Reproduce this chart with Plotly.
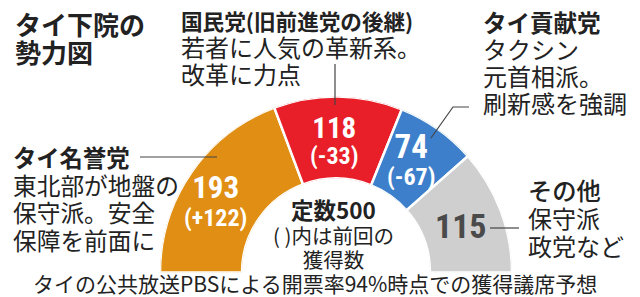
import plotly.graph_objects as go

W, H = 640, 297

parties = ["タイ名誉党", "国民党", "タイ貢献党", "その他"]
seats = [193, 118, 74, 115]
changes = ["(+122)", "(-33)", "(-67)", ""]
colors = ["#E08E14", "#E81E28", "#3D7FCB", "#CFCFCF"]
total = 500

title_lines = ["タイ下院の", "勢力図"]
notes = {
    "国民党": ["国民党(旧前進党の後継)", "若者に人気の革新系。", "改革に力点"],
    "タイ貢献党": ["タイ貢献党", "タクシン", "元首相派。", "刷新感を強調"],
    "タイ名誉党": ["タイ名誉党", "東北部が地盤の", "保守派。安全", "保障を前面に"],
    "その他": ["その他", "保守派", "政党など"],
}
center_lines = ["定数500", "( )内は前回の", "獲得数"]
footer = "タイの公共放送PBSによる開票率94%時点での獲得議席予想"

# angular positions derived from seat counts (half circle = total seats)
theta, width = [], []
cum = 0
for s in seats:
    theta.append((cum + s / 2) / total * 180)
    width.append(s / total * 180)
    cum += s

fig = go.Figure()
fig.add_trace(go.Barpolar(
    r=[1] * len(seats), theta=theta, width=width,
    marker=dict(color=colors, line=dict(color="white", width=2.5)),
    hoverinfo="skip", showlegend=False,
))


def px(x):
    return x / W


def py(y):
    return 1 - y / H


JP = "Noto Sans CJK JP"
NUM = "Liberation Sans Narrow, Roboto Condensed, Roboto"
INK = "#222222"
ann = []


def span(t, size, weight=None):
    st = f"font-size:{size}px"
    if weight:
        st += f";font-weight:{weight}"
    return f"<span style='{st}'>{t}</span>"


def block(lines, x, yc, spacing, anchor="left", color=INK, family=JP):
    """lines: list of (text, size, weight). yc: centre of block, spacing: line pitch in px."""
    t = "<br>".join(span(a, s, w) for a, s, w in lines)
    ann.append(dict(text=t, x=px(x), y=py(yc), xref="paper", yref="paper",
                    xanchor=anchor, yanchor="middle", showarrow=False, align=anchor,
                    font=dict(family=family, size=spacing / 1.3, color=color)))


# title
block([(title_lines[0], 26, 700), (title_lines[1], 26, 700)], 13, 37.5, 28)

kk = notes["国民党"]
block([(kk[0], 21.6, 700), (kk[1], 24, None), (kk[2], 24, None)], 179, 48, 27)

pt = notes["タイ貢献党"]
block([(pt[0], 23.5, 700), (pt[1], 24, None), (pt[2], 24, None), (pt[3], 24, None)], 481, 62.5, 27)

bj = notes["タイ名誉党"]
block([(bj[0], 23.3, 700), (bj[1], 23.7, None), (bj[2], 23.7, None), (bj[3], 23.7, None)], 11, 198.75, 27.5)

ot = notes["その他"]
block([(ot[0], 24.3, 500), (ot[1], 24, None), (ot[2], 24, None)], 526, 217, 28)

# seat numbers inside the arc
num_pos = [(215.5, 200, 28), (333.5, 141, 26), (410.5, 158.5, 27), (461, 225.5, 30)]
num_sizes = [(31, 24), (29, 24), (33, 24), (34, 24)]
for i, s in enumerate(seats):
    x, yc, sp = num_pos[i]
    col = "#4A4A4A" if i == 3 else "white"
    lines = [(str(s), num_sizes[i][0], 700)]
    if changes[i]:
        lines.append((changes[i], num_sizes[i][1], 700))
    block(lines, x, yc, sp, anchor="center", color=col, family=NUM)

# center text
block([(center_lines[0], 22.5, 700), (center_lines[1], 20.5, None), (center_lines[2], 20.5, None)],
      333, 233, 24.5, anchor="center")

# footer
ann.append(dict(text=footer, x=px(314.5), y=py(282.5), xref="paper", yref="paper",
                xanchor="center", yanchor="middle", showarrow=False,
                font=dict(family=JP, size=21, color=INK)))

LINE = dict(color="#444444", width=1.2)
shapes = [
    dict(type="line", xref="paper", yref="paper", x0=px(335), y0=py(64), x1=px(335), y1=py(105), line=LINE),
    dict(type="line", xref="paper", yref="paper", x0=px(140), y0=py(157), x1=px(217), y1=py(157), line=LINE),
    dict(type="line", xref="paper", yref="paper", x0=px(490), y0=py(228), x1=px(519), y1=py(228), line=LINE),
    dict(type="path", xref="paper", yref="paper",
         path=f"M {px(469)} {py(107)} L {px(453)} {py(107)} L {px(431)} {py(138)}", line=LINE),
]

fig.update_layout(
    width=W, height=H,
    margin=dict(l=0, r=0, t=0, b=0),
    paper_bgcolor="white", plot_bgcolor="white",
    polar=dict(
        domain=dict(x=[160 / W, 512 / W], y=[1 - 272.5 / H, 1 - 96.5 / H]),
        sector=[0, 180], hole=0.534, bgcolor="rgba(0,0,0,0)",
        radialaxis=dict(visible=False, range=[0, 1]),
        angularaxis=dict(visible=False, direction="clockwise", rotation=180),
        bargap=0,
    ),
    annotations=ann, shapes=shapes, showlegend=False,
)

fig.write_html("out.html")
